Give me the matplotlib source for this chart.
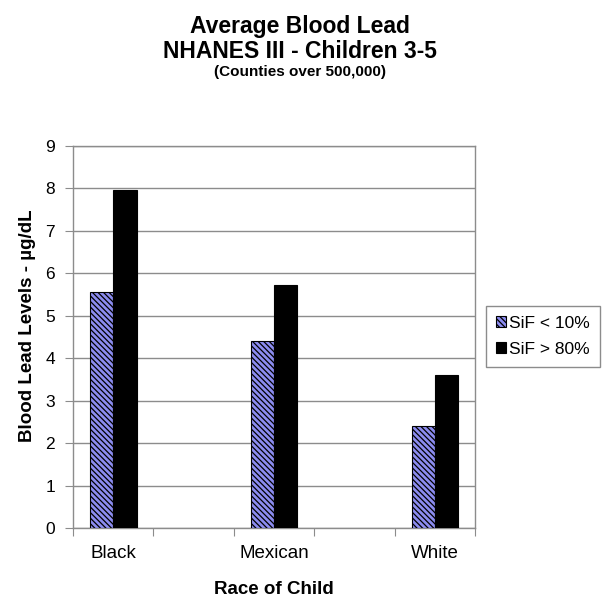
import numpy as np
import matplotlib.pyplot as plt

plt.rcParams['font.family'] = ['Liberation Sans', 'DejaVu Sans']
plt.rcParams['hatch.linewidth'] = 0.9

# mean blood lead by race, two SiF groups
races = ["Black", "Mexican", "White"]
sif_low = [5.55, 4.4, 2.4]
sif_high = [7.97, 5.72, 3.6]
series_names = ["SiF < 10%", "SiF > 80%"]

fig = plt.figure(figsize=(6.06, 6.16), dpi=100)
ax = fig.add_axes([0.1205, 0.1429, 0.6634, 0.6201])

# every other slot is left empty so the groups sit apart
slots = len(races) * 2 - 1
pos = np.arange(len(races)) * 2
w = 0.29

ax.bar(pos - w / 2, sif_low, w, color='#8c8cf0', edgecolor='black',
       hatch='\\' * 6, linewidth=0.8, label=series_names[0], zorder=3)
ax.bar(pos + w / 2, sif_high, w, color='black', edgecolor='black',
       linewidth=0.8, label=series_names[1], zorder=3)

ax.set_xlim(-0.5, slots - 0.5)
ax.set_ylim(0, 9)
ax.set_yticks(range(10))
ax.yaxis.grid(True, color='#8c8c8c', linewidth=1.0, zorder=0)
ax.set_xticks(np.arange(slots + 1) - 0.5)
ax.set_xticklabels([])
ax.set_xticks(pos, minor=True)
ax.set_xticklabels(races, minor=True, fontsize=13.5)
ax.tick_params(axis='x', which='minor', length=0, pad=12)
ax.tick_params(axis='x', which='major', length=6, color='#8c8c8c')
ax.tick_params(axis='y', length=6, color='#8c8c8c', labelsize=12.5, pad=7)
for s in ax.spines.values():
    s.set_color('#8c8c8c')
    s.set_linewidth(1.0)

ax.set_ylabel("Blood Lead Levels - µg/dL", fontsize=13.5, fontweight='bold')
ax.yaxis.set_label_coords(-0.092, 0.53)
ax.set_xlabel("Race of Child", fontsize=13.5, fontweight='bold')
ax.xaxis.set_label_coords(0.5, -0.14)

fig.text(0.495, 0.957, "Average Blood Lead", ha='center', va='center',
         fontsize=16.5, fontweight='bold')
fig.text(0.495, 0.917, "NHANES III - Children 3-5", ha='center', va='center',
         fontsize=16.5, fontweight='bold')
fig.text(0.495, 0.883, "(Counties over 500,000)", ha='center', va='center',
         fontsize=11, fontweight='bold')

leg = fig.legend(loc='upper left', bbox_to_anchor=(0.802, 0.503), fontsize=12.5,
                 handlelength=0.6, handleheight=0.6, handletextpad=0.2,
                 borderpad=0.55, labelspacing=0.65, borderaxespad=0,
                 fancybox=False, framealpha=1)
leg.get_frame().set_edgecolor('#8c8c8c')
leg.get_frame().set_linewidth(1.0)

fig.savefig('out.png', dpi=100)
